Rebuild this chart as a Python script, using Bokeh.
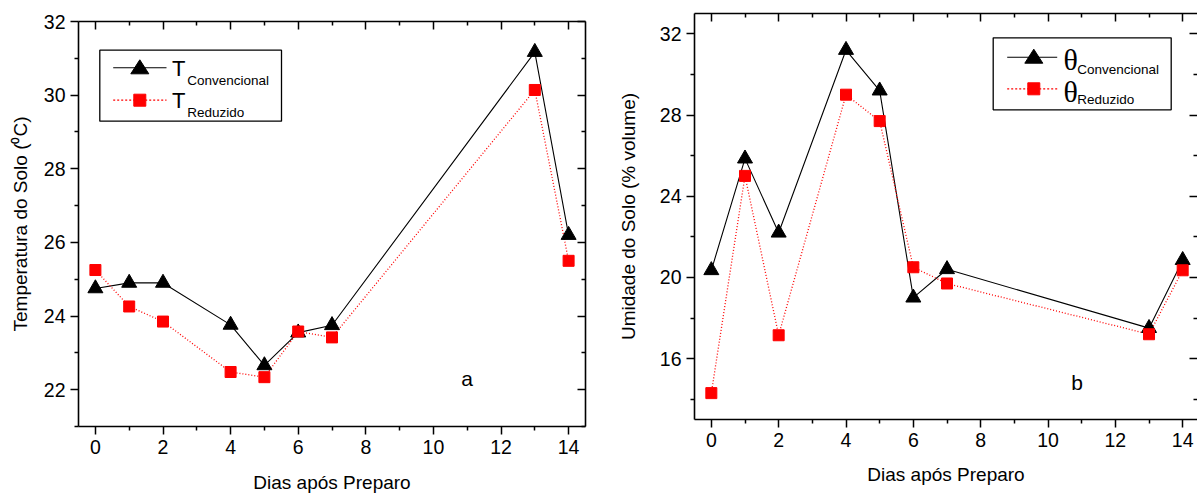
from bokeh.plotting import figure
from bokeh.models import (LinearAxis, Range1d, Label, BoxAnnotation, PolyAnnotation,
                          Arrow, FixedTicker)
from bokeh.layouts import row, column
from bokeh.embed import file_html
from bokeh.resources import INLINE

# ---------------- data ----------------
days = [0, 1, 2, 4, 5, 6, 7, 13, 14]
temp_conv = [24.75, 24.9, 24.9, 23.76, 22.66, 23.55, 23.75, 31.17, 26.2]
temp_red = [25.25, 24.26, 23.85, 22.48, 22.34, 23.58, 23.42, 30.14, 25.5]
moist_conv = [20.35, 25.85, 22.2, 31.2, 29.2, 19.0, 20.4, 17.5, 20.85]
moist_red = [14.3, 25.0, 17.15, 29.0, 27.7, 20.5, 19.7, 17.2, 20.35]

x_ticks = [0, 2, 4, 6, 8, 10, 12, 14]
x_minor = [1, 3, 5, 7, 9, 11, 13]
temp_ticks = [22, 24, 26, 28, 30, 32]
temp_minor = [21, 23, 25, 27, 29, 31]
moist_ticks = [16, 20, 24, 28, 32]
moist_minor = [14, 18, 22, 26, 30]

x_title = "Dias após Preparo"
temp_title = "Temperatura do Solo (⁰C)"
moist_title = "Umidade do Solo (% volume)"
subs = ["Convencional", "Reduzido"]

FONT = "Liberation Sans"
SERIF = "Liberation Serif"


def style_axis(ax, ticks, minor):
    ax.ticker = FixedTicker(ticks=ticks, minor_ticks=minor)
    ax.axis_line_width = 1.6
    ax.axis_line_color = "black"
    ax.major_tick_line_width = 1.5
    ax.minor_tick_line_width = 1.5
    ax.major_tick_line_color = "black"
    ax.minor_tick_line_color = "black"
    ax.major_tick_in, ax.major_tick_out = 0, 8
    ax.minor_tick_in, ax.minor_tick_out = 0, 4
    ax.major_label_text_font = FONT
    ax.major_label_text_font_size = "19.5px"
    ax.major_label_text_color = "black"
    ax.major_label_standoff = 5
    ax.axis_label_text_font = FONT
    ax.axis_label_text_font_size = "19px"
    ax.axis_label_text_font_style = "normal"
    ax.axis_label_text_color = "black"


def mirror_axes(p, side, ticks, minor, line=True):
    # inward ticks on the mirrored side, drawn as label-free (minor) ticks
    for pos, length, draw_line in ((ticks, 8, line), (minor, 4, False)):
        ax = LinearAxis(ticker=FixedTicker(ticks=[], minor_ticks=pos))
        ax.axis_line_color = "black" if draw_line else None
        ax.axis_line_width = 1.6
        ax.minor_tick_in, ax.minor_tick_out = length, 0
        ax.major_tick_in, ax.major_tick_out = 0, 0
        ax.minor_tick_line_width = 1.5
        ax.minor_tick_line_color = "black"
        ax.major_label_standoff = 0
        p.add_layout(ax, side)


def make_panel(width, borders, xr, yr, yticks, yminor, ytitle, ystandoff,
               xstandoff, xlineh, right_line=True):
    bl, br, bt, bb = borders
    p = figure(width=width, height=495, x_range=Range1d(*xr), y_range=Range1d(*yr),
               output_backend="svg", toolbar_location=None,
               min_border_left=bl, min_border_right=br, min_border_top=bt,
               min_border_bottom=bb, background_fill_color="white",
               border_fill_color="white")
    p.outline_line_color = None
    p.xgrid.visible = False
    p.ygrid.visible = False
    style_axis(p.xaxis[0], x_ticks, x_minor)
    p.xaxis[0].axis_label = x_title
    p.xaxis[0].axis_label_standoff = xstandoff
    p.xaxis[0].axis_label_text_line_height = xlineh
    style_axis(p.yaxis[0], yticks, yminor)
    p.yaxis[0].axis_label = ytitle
    p.yaxis[0].axis_label_standoff = ystandoff
    mirror_axes(p, "above", x_ticks, x_minor)
    mirror_axes(p, "right", yticks, yminor, line=right_line)
    return p


def draw_series(p, conv, red):
    p.line(days, conv, line_color="black", line_width=1.1)
    p.line(days, red, line_color="red", line_width=1.3, line_dash="1 2")
    p.scatter(days, conv, marker="triangle", size=15, fill_color="black",
              line_color="black")
    p.scatter(days, red, marker="square", size=11, fill_color="red",
              line_color="red")


def draw_legend(p, box, line_x, row_y, sym_x, sym_text, sym_font, sym_size, sym_x0,
                sub_x0, sym_mid, sub_mid):
    l, r, b, t = box
    p.add_layout(BoxAnnotation(left=l, right=r, bottom=b, top=t,
                               left_units="screen", right_units="screen",
                               bottom_units="screen", top_units="screen",
                               fill_color="white", fill_alpha=1.0,
                               line_color="black", line_width=1.3, line_alpha=1.0))
    p.add_layout(Arrow(end=None, x_start=line_x[0], x_end=line_x[1],
                       y_start=row_y[0], y_end=row_y[0],
                       start_units="screen", end_units="screen",
                       line_color="black", line_width=1.1))
    p.add_layout(Arrow(end=None, x_start=line_x[0], x_end=line_x[1],
                       y_start=row_y[1], y_end=row_y[1],
                       start_units="screen", end_units="screen",
                       line_color="red", line_width=1.3, line_dash="2 2"))
    cx, cy = sym_x, row_y[0]
    p.add_layout(PolyAnnotation(xs=[cx - 9, cx + 9, cx], ys=[cy - 6, cy - 6, cy + 8],
                                xs_units="screen", ys_units="screen",
                                fill_color="black", fill_alpha=1.0,
                                line_color="black", line_alpha=1.0))
    cy = row_y[1]
    p.add_layout(PolyAnnotation(xs=[cx - 6, cx + 6, cx + 6, cx - 6],
                                ys=[cy - 6, cy - 6, cy + 6, cy + 6],
                                xs_units="screen", ys_units="screen",
                                fill_color="red", fill_alpha=1.0,
                                line_color="red", line_alpha=1.0))
    for i in range(2):
        p.add_layout(Label(x=sym_x0, y=sym_mid[i], x_units="screen", y_units="screen",
                           text=sym_text, text_font=sym_font, text_font_size=sym_size,
                           text_color="black", text_baseline="middle"))
        p.add_layout(Label(x=sub_x0, y=sub_mid[i], x_units="screen", y_units="screen",
                           text=subs[i], text_font=FONT, text_font_size="13.5px",
                           text_color="black", text_baseline="middle"))


# ---------------- panel a ----------------
pa = make_panel(600, (78, 15, 21, 68), (-0.5, 14.5), (21, 32),
                temp_ticks, temp_minor, temp_title, 10, 15, 0.75)
draw_series(pa, temp_conv, temp_red)
draw_legend(pa, (21.3, 203, 305.3, 376.3), (34.7, 88), (358.7, 326.3), 61.3,
            "T", FONT, "22px", 93.5, 108.7, (358.3, 326.2), (345.7, 314.4))
pa.add_layout(Label(x=11, y=22.30, text="a", text_font=FONT, text_font_size="21px",
                    text_color="black", text_align="center", text_baseline="middle"))

# ---------------- panel b ----------------
pb = make_panel(597, (94, 0, 13, 76), (-0.5, 14.44), (13, 33),
                moist_ticks, moist_minor, moist_title, 18, 14, 1.2, right_line=False)
draw_series(pb, moist_conv, moist_red)
draw_legend(pb, (298.7, 476.7, 309.7, 381.7), (312.7, 362.7), (362.3, 330.7), 339.3,
            "θ", SERIF, "30px", 369, 382.7, (360.2, 327.9), (350.4, 320.4))
pb.add_layout(Label(x=10.86, y=14.82, text="b", text_font=FONT, text_font_size="21px",
                    text_color="black", text_align="center", text_baseline="middle"))

layout = row(column(pa), column(pb))
open("out.html", "w").write(file_html(layout, INLINE))
